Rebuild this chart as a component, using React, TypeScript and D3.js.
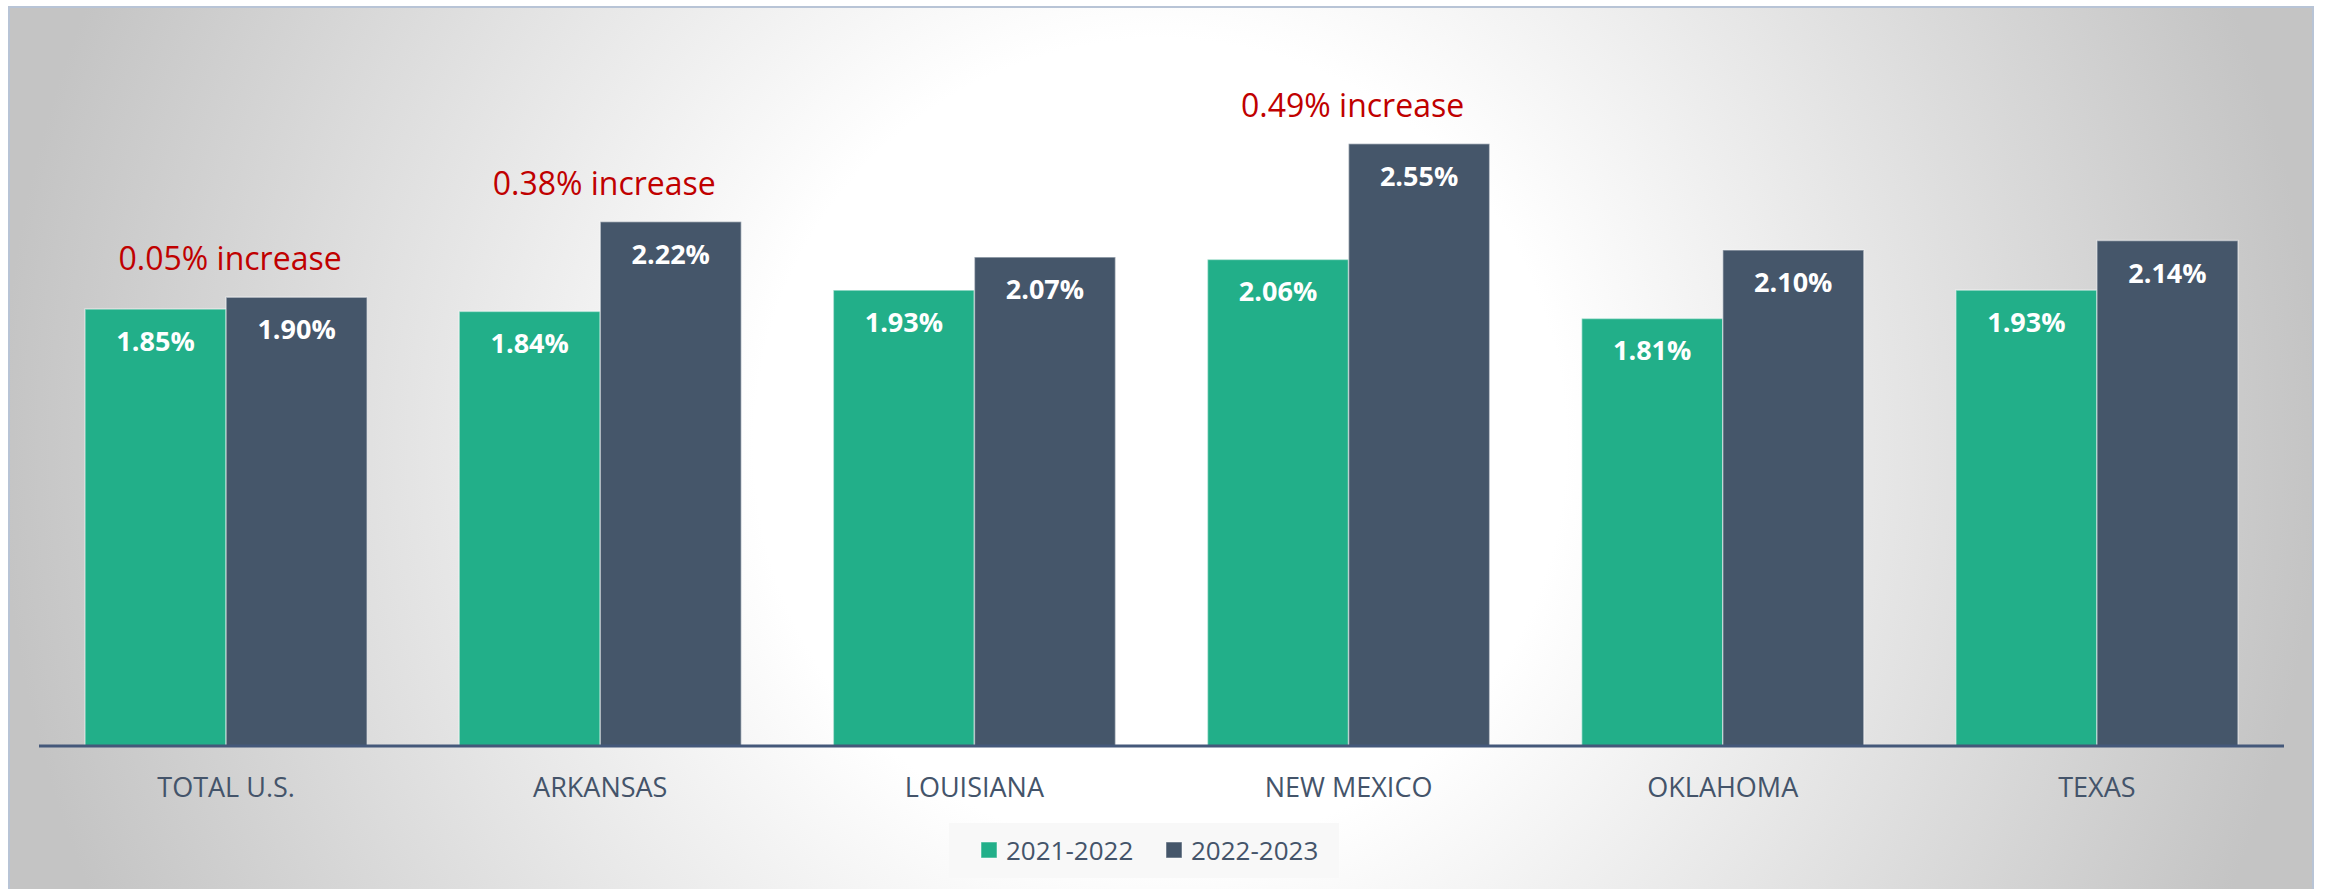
import React, { useEffect } from "react";
import { scaleBand, scaleLinear } from "d3";

// chart data
const categories = ["TOTAL U.S.", "ARKANSAS", "LOUISIANA", "NEW MEXICO", "OKLAHOMA", "TEXAS"];
const seriesNames = ["2021-2022", "2022-2023"];
const values2122 = [1.85, 1.84, 1.93, 2.06, 1.81, 1.93];
const values2223 = [1.90, 2.22, 2.07, 2.55, 2.10, 2.14];
const annotations = [
  { category: "TOTAL U.S.", text: "0.05% increase" },
  { category: "ARKANSAS", text: "0.38% increase" },
  { category: "NEW MEXICO", text: "0.49% increase" },
];

const W = 2328;
const H = 889;
const colors = ["#22af89", "#45566a"];
const FONT = "'Open Sans', 'Noto Sans', sans-serif";

export default function App() {
  useEffect(() => {
    // page has default 8px margin, drop it so the svg sits at 0,0
    document.body.style.margin = "0";
  }, []);

  const plotLeft = 39;
  const plotRight = 2284;
  const baseY = 746;

  const x0 = scaleBand<string>()
    .domain(categories)
    .range([plotLeft, plotRight])
    .paddingInner(0.246)
    .paddingOuter(0.123);
  const x1 = scaleBand<string>().domain(seriesNames).range([0, x0.bandwidth()]);
  const y = scaleLinear().domain([0, 3]).range([baseY, 37.4]);

  const series = [values2122, values2223];

  return (
    <svg width={W} height={H} style={{ display: "block" }} fontFamily={FONT}>
      <defs>
        <radialGradient id="bg" gradientUnits="userSpaceOnUse" cx={1160} cy={445} r={1160}>
          <stop offset="0" stopColor="#ffffff" />
          <stop offset="0.35" stopColor="#ffffff" />
          <stop offset="1" stopColor="#c4c4c4" />
        </radialGradient>
      </defs>
      <rect x={0} y={0} width={W} height={H} fill="#ffffff" />
      <rect x={9} y={7} width={2304} height={895} fill="url(#bg)" stroke="#b8c4d6" strokeWidth={2} />

      {categories.map((c, ci) => (
        <g key={c} transform={`translate(${x0(c)},0)`}>
          {series.map((vals, si) => {
            const bx = x1(seriesNames[si]) as number;
            const top = y(vals[ci]);
            return (
              <g key={si}>
                <rect
                  x={bx}
                  y={top}
                  width={x1.bandwidth()}
                  height={baseY - top}
                  fill={colors[si]}
                  stroke="rgba(255,255,255,0.45)"
                  strokeWidth={1.5}
                />
                <text
                  x={bx + x1.bandwidth() / 2}
                  y={top + 42}
                  textAnchor="middle"
                  fill="#ffffff"
                  fontWeight="bold"
                  fontSize={27}
                >
                  {vals[ci].toFixed(2) + "%"}
                </text>
              </g>
            );
          })}
          <text
            x={x0.bandwidth() / 2}
            y={797}
            textAnchor="middle"
            fill="#44546a"
            fontSize={27}
          >
            {c}
          </text>
        </g>
      ))}

      <line x1={plotLeft} x2={plotRight} y1={baseY} y2={baseY} stroke="#44587a" strokeWidth={3} />

      {annotations.map((a) => {
        const ci = categories.indexOf(a.category);
        const maxV = Math.max(values2122[ci], values2223[ci]);
        return (
          <text
            key={a.category}
            x={(x0(a.category) as number) + x0.bandwidth() / 2 + 4}
            y={y(maxV) - 27}
            textAnchor="middle"
            fill="#c00000"
            fontSize={32}
          >
            {a.text}
          </text>
        );
      })}

      <g>
        <rect x={949} y={823} width={390} height={55} fill="#f8f8f8" />
        {seriesNames.map((s, i) => (
          <g key={s} transform={`translate(${981 + i * 185},0)`}>
            <rect x={0} y={842} width={16} height={16} fill={colors[i]} stroke="rgba(255,255,255,0.5)" strokeWidth={1} />
            <text x={25} y={860} fill="#44546a" fontSize={26}>
              {s}
            </text>
          </g>
        ))}
      </g>
    </svg>
  );
}
